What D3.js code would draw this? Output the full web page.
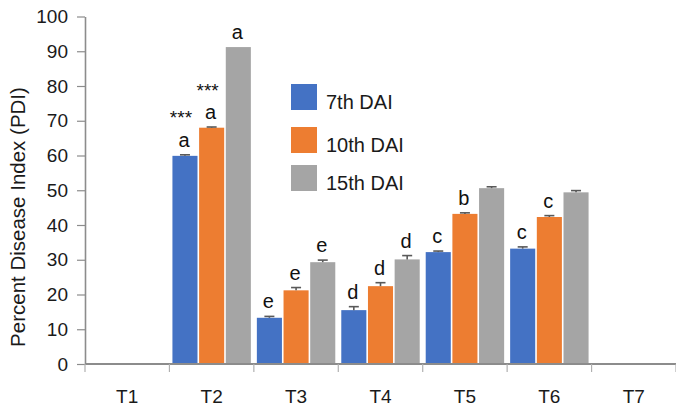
<!DOCTYPE html>
<html><head><meta charset="utf-8">
<script src="https://cdn.jsdelivr.net/npm/d3@7/dist/d3.min.js"></script>
<style>
html,body{margin:0;padding:0;background:#fff;}
svg{display:block;font-family:"Liberation Sans",Arial,sans-serif;}
</style></head>
<body><svg id="chart" width="676" height="408"></svg>
<script>
const categories = ["T1","T2","T3","T4","T5","T6","T7"];
const seriesNames = ["7th DAI","10th DAI","15th DAI"];
const dai7  = [0, 59.9, 13.3, 15.5, 32.2, 33.2, 0];
const dai10 = [0, 68.0, 21.2, 22.4, 43.2, 42.3, 0];
const dai15 = [0, 91.2, 29.3, 30.1, 50.6, 49.4, 0];
const err7  = [0, 0.3, 0.4, 1.0, 0.3, 0.5, 0];
const err10 = [0, 0.2, 0.8, 1.0, 0.3, 0.4, 0];
const err15 = [0, 0.0, 0.6, 1.1, 0.4, 0.5, 0];
const letters7  = ["", "a", "e", "d", "c", "c", ""];
const letters10 = ["", "a", "e", "d", "b", "c", ""];
const letters15 = ["", "a", "e", "d", "", "", ""];
const stars7  = ["", "***", "", "", "", "", ""];
const stars10 = ["", "***", "", "", "", "", ""];
const stars15 = ["", "", "", "", "", "", ""];
const yTicks = [0,10,20,30,40,50,60,70,80,90,100];
const colors = ["#4472C4","#ED7D31","#A5A5A5"];

const values = [dai7, dai10, dai15];
const errs = [err7, err10, err15];
const letters = [letters7, letters10, letters15];
const stars = [stars7, stars10, stars15];

const svg = d3.select("#chart");
const mLeft = 85, mRight = 676, mTop = 16.5, mBottom = 364;

const x = d3.scaleBand().domain(categories).range([mLeft, mRight]).padding(0);
const xs = d3.scaleBand().domain(d3.range(3)).range([3, x.bandwidth() - 3]).paddingInner(0.06);
const y = d3.scaleLinear().domain([0, 100]).range([mBottom, mTop]);

// y axis
const yAxis = svg.append("g").attr("transform", `translate(${mLeft},0)`)
  .call(d3.axisLeft(y).tickValues(yTicks).tickSize(8).tickPadding(9).tickSizeOuter(0));
yAxis.select(".domain").attr("stroke", "#8c8c8c").attr("stroke-width", 1.6);
yAxis.selectAll(".tick line").attr("stroke", "#8c8c8c").attr("stroke-width", 1.2);
yAxis.selectAll(".tick text").attr("font-size", 19).attr("fill", "#1a1a1a")
  .attr("font-family", "Liberation Sans, Arial, sans-serif");

// bars
const data = [];
categories.forEach((c, ci) => {
  for (let s = 0; s < 3; s++) {
    data.push({c, s, v: values[s][ci], e: errs[s][ci], l: letters[s][ci], st: stars[s][ci]});
  }
});
const bx = d => x(d.c) + xs(d.s);

svg.append("g").selectAll("rect").data(data.filter(d => d.v > 0)).join("rect")
  .attr("x", bx).attr("width", xs.bandwidth())
  .attr("y", d => y(d.v)).attr("height", d => y(0) - y(d.v))
  .attr("fill", d => colors[d.s]);

// error bars
const eg = svg.append("g").attr("stroke", "#595959").attr("stroke-width", 1.6);
data.filter(d => d.e > 0).forEach(d => {
  const cx = bx(d) + xs.bandwidth() / 2;
  eg.append("line").attr("x1", cx).attr("x2", cx).attr("y1", y(d.v)).attr("y2", y(d.v + d.e));
  eg.append("line").attr("x1", cx - 5).attr("x2", cx + 5).attr("y1", y(d.v + d.e)).attr("y2", y(d.v + d.e));
});

// significance letters
svg.append("g").selectAll("text").data(data.filter(d => d.l)).join("text")
  .attr("x", d => bx(d) + xs.bandwidth() / 2 - 1)
  .attr("y", d => y(d.v + d.e) - 8)
  .attr("text-anchor", "middle").attr("font-size", 20).attr("fill", "#111")
  .text(d => d.l);
svg.append("g").selectAll("text").data(data.filter(d => d.st)).join("text")
  .attr("x", d => bx(d) + xs.bandwidth() / 2 - 4)
  .attr("y", d => y(d.v + d.e) - 8 - 22.5)
  .attr("text-anchor", "middle").attr("font-size", 19).attr("fill", "#111")
  .text(d => d.st);

// x axis
const xg = svg.append("g").attr("transform", `translate(0,${mBottom})`);
xg.append("line").attr("x1", mLeft).attr("x2", mRight).attr("stroke", "#8c8c8c").attr("stroke-width", 2);
const bounds = categories.map(c => x(c)).concat([x(categories[categories.length - 1]) + x.bandwidth()]);
xg.selectAll("line.tk").data(bounds).join("line").attr("class", "tk")
  .attr("x1", d => d).attr("x2", d => d).attr("y1", 0).attr("y2", 8)
  .attr("stroke", "#b0b0b0").attr("stroke-width", 1.2);
xg.selectAll("text").data(categories).join("text")
  .attr("x", d => x(d) + x.bandwidth() / 2).attr("y", 39)
  .attr("text-anchor", "middle").attr("font-size", 19).attr("fill", "#1a1a1a")
  .text(d => d);

// y title
svg.append("text").attr("transform", "translate(25,217) rotate(-90)")
  .attr("text-anchor", "middle").attr("font-size", 20.5).attr("fill", "#1a1a1a")
  .text("Percent Disease Index (PDI)");

// legend
const legendY = [84, 127, 165];
const lg = svg.append("g");
seriesNames.forEach((n, i) => {
  lg.append("rect").attr("x", 291).attr("y", legendY[i]).attr("width", 26).attr("height", 26).attr("fill", colors[i]);
  lg.append("text").attr("x", 326).attr("y", legendY[i] + 25).attr("font-size", 20).attr("fill", "#1a1a1a").text(n);
});
</script></body></html>
